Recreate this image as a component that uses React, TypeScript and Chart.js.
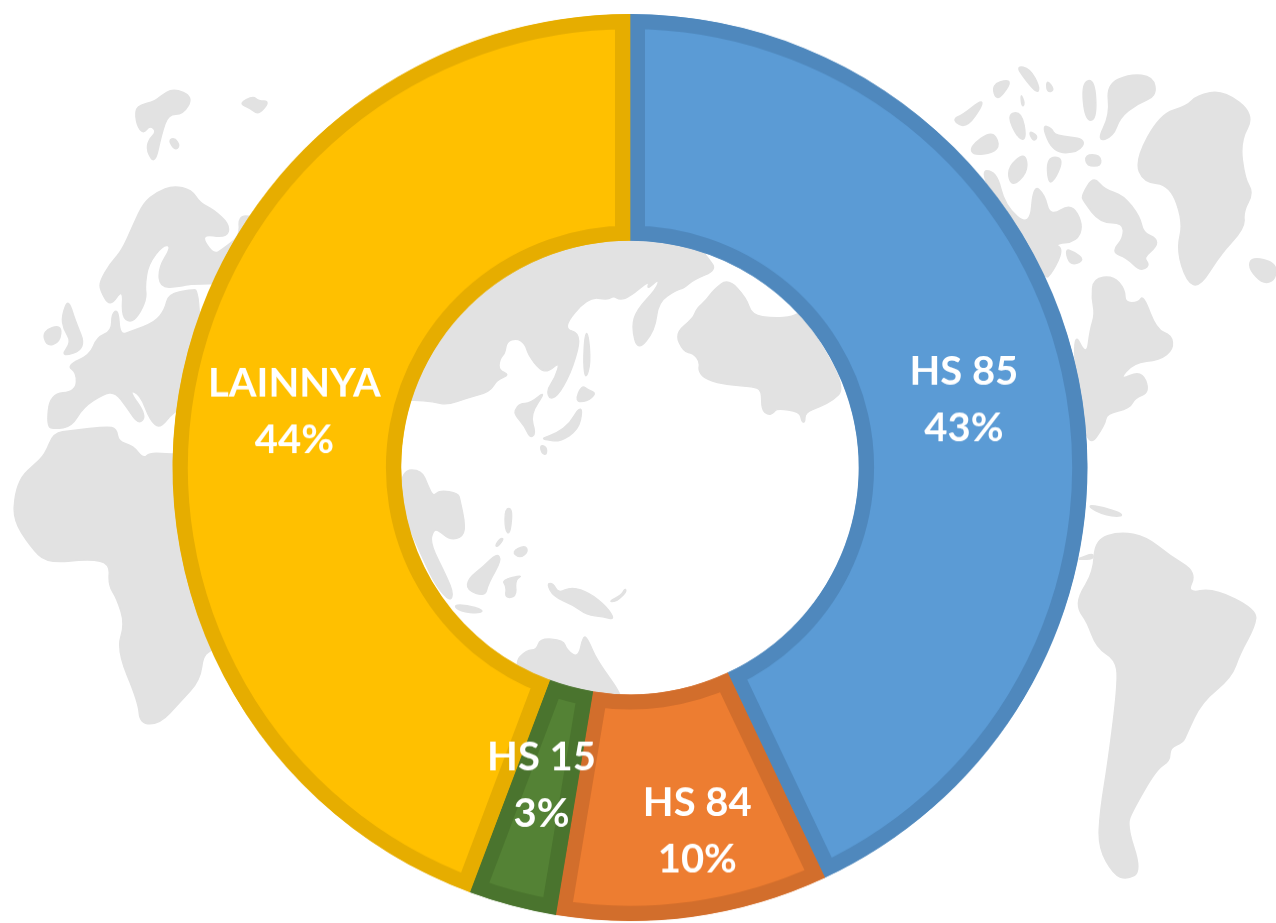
import React, { useEffect, useRef } from "react";
import { Chart, registerables } from "chart.js";

Chart.register(...registerables);

const categories = ["HS 85", "HS 84", "HS 15", "LAINNYA"];
const shares = [43, 9.6, 3.1, 44.3];
const fillColors = ["#5B9BD5", "#ED7D31", "#548235", "#FFC000"];
const edgeColors = ["#4F88BD", "#D26E2C", "#4A742E", "#E6AD00"];
const labelNudgeX = [-1, 20, 0, 2];
const labelNudgeY = [6, 27, -11, 5];

// Decorative backdrop outlines, written in the coordinates of three regions of the picture.
const mapWest = [
  "405,110 440,100 465,95 480,85 520,65 580,85 550,125 505,125 485,170 465,240 440,210 445,185 470,165 450,150 430,170 410,150",
  "505,185 525,180 540,198 525,208",
  "717,100 760,83 775,95 810,95 775,127 750,110",
  "300,510 330,470 365,440 400,380 430,330 470,305 520,290 575,300 600,330 640,345 690,380 680,410 600,400 640,450 670,435 720,405 715,360 760,360 850,400 850,515 575,515 540,522 480,525 475,480 515,430 490,425 445,470 435,520 440,550 415,590 390,605 365,590 370,525 330,570 300,530",
  "570,530 505,540 495,575 465,605 395,625 360,635 355,575 335,585 335,625 290,640 270,680 200,705 230,720 228,765 150,770 140,845 165,850 215,845 250,800 310,770 345,765 380,800 415,840 440,820 385,760 420,770 450,830 480,850 520,810 600,780 600,530",
  "185,590 205,550 225,600 260,665 180,685 215,650 190,620",
  "127,625 185,610 180,650 140,660",
  "160,860 215,855 320,845 350,850 355,880 400,890 430,920 450,905 520,910 700,900 700,1300 640,1360 610,1370 600,1430 540,1480 480,1530 420,1530 415,1480 350,1360 375,1300 350,1240 325,1210 330,1160 270,1150 140,1160 90,1120 40,1060 45,1000 65,960 100,935 135,910",
];
const mapCentre = [
  "40,510 100,515 140,525 200,505 270,485 290,450 330,435 295,420 300,385 315,370 320,335 350,325 375,340 385,375 420,420 445,425 480,395 465,445 440,480 450,510 480,490 520,410 545,310 485,295 565,200 625,210 640,197 660,210 690,200 750,150 740,180 778,145 770,175 710,240 695,290 713,365 765,300 775,215 830,180 850,175 880,150 950,120 925,85 860,0 0,0 0,510",
  "985,145 1040,205 1055,255 1120,265 1180,260 1200,245 1300,400 1330,480 1300,510 1260,530 1215,548 1215,578 1205,575 1200,545 1130,535 1120,550 1105,555 1085,540 1085,480 1060,470 985,465 920,450 895,425 900,395 880,370 850,365 825,310 880,265 890,235 920,210 940,180",
  "555,310 565,310 572,400 557,450 550,400",
  "545,465 565,480 590,490 560,515 525,515",
  "535,535 548,540 535,600 480,635 440,630 425,625 470,610 510,580",
  "420,645 440,650 440,675 425,670",
  "345,540 360,520 390,520 440,480 390,555 408,610 390,625 375,590 345,555",
  "5,720 65,720 85,770 100,800 120,780 175,790 180,810 195,880 190,920 150,930 115,900 100,900 90,940 140,1040 160,1090 150,1115 110,1070 75,1000 0,830",
  "315,835 338,835 330,915 315,900",
  "300,925 312,925 295,950 285,948",
  "335,965 375,945 385,965 360,985",
  "290,970 305,990 265,1060 255,1100 200,1080 205,1045 250,1010",
  "160,1125 200,1125 250,1140 240,1150 180,1145",
  "305,1050 370,1035 345,1050 350,1100 315,1105 320,1070",
  "440,1060 460,1060 475,1090 515,1070 570,1090 620,1130 645,1170 610,1160 560,1155 520,1125 460,1100",
  "625,1115 665,1095 675,1075 680,1085 650,1115",
  "340,1300 380,1260 410,1260 420,1225 490,1230 500,1260 535,1285 550,1215 565,1230 590,1290 670,1400 660,1440 400,1440",
];
const mapEast = [
  "65,130 100,120 150,95 160,100 110,145",
  "120,180 185,150 210,175 190,190 130,195",
  "260,30 300,35 330,70 320,80 280,50",
  "350,55 375,75 350,78",
  "272,80 285,100 275,105",
  "185,65 235,55 240,65 200,95",
  "230,120 275,115 290,165 265,165",
  "295,150 325,160 310,170",
  "335,140 365,145 375,160 470,165 445,190 370,190",
  "455,60 495,55 500,130 465,130",
  "530,65 600,45 670,50 680,85 620,100 570,125 550,160 500,170 540,120",
  "465,195 510,195 515,215 470,215",
  "615,205 690,120 770,105 800,85 880,75 975,120 930,170 945,240 970,265 940,300 945,330 870,380 810,440 770,430 740,370 760,320 720,250 640,245",
  "955,405 965,385 1038,395 1038,425 1000,435",
  "230,220 285,190 295,225 245,255",
  "350,200 400,200 380,235 355,250",
  "140,225 200,225 225,290 300,330 310,250 345,270 360,310 425,285 460,325 440,355 370,360 400,370 370,410 340,430",
  "455,270 490,235 525,260 580,270 630,310 640,340 680,350 680,365 640,385 660,400 630,410 590,385 545,375 580,350 580,320 510,320 460,280",
  "490,425 550,420 585,445 585,470 625,470 640,455 680,520 725,530 730,555 690,575 610,580 565,615 635,595 660,635 615,645 600,665 530,675 525,695 475,740 440,640 430,520 470,570 480,520 495,490 485,460",
  "405,370 430,375 465,390 420,400",
  "465,845 525,850 590,865 530,865",
  "445,945 490,935 490,945 450,945",
  "495,910 570,895 650,905 720,940 800,970 770,1010 850,1000 980,1040 975,1070 930,1120 905,1165 815,1210 770,1270 760,1285 720,1295 720,1320 680,1335 610,1410 590,1440 635,1525 590,1540 550,1530 505,1480 510,1415 535,1320 565,1170 555,1130 500,1110 470,1060 445,1040 445,1015 490,970",
];

// Rounds an outline's corners so the coastlines read as soft shapes.
function roundedOutline(points: string): string {
  const pts = points.split(" ").map((p) => p.split(",").map(Number));
  const mid = (a: number[], b: number[]) => [(a[0] + b[0]) / 2, (a[1] + b[1]) / 2];
  const start = mid(pts[pts.length - 1], pts[0]);
  let d = `M${start[0]},${start[1]}`;
  pts.forEach((p, i) => {
    const m = mid(p, pts[(i + 1) % pts.length]);
    d += `Q${p[0]},${p[1]} ${m[0]},${m[1]}`;
  });
  return d + "Z";
}

const sliceLabels = {
  id: "sliceLabels",
  afterDatasetsDraw(chart: any) {
    const { ctx } = chart;
    const arcs = chart.getDatasetMeta(0).data;
    ctx.save();
    ctx.fillStyle = "#FFFFFF";
    ctx.font = "bold 40px Lato";
    ctx.textAlign = "center";
    ctx.textBaseline = "middle";
    arcs.forEach((arc: any, i: number) => {
      const c = arc.getCenterPoint();
      const x = c.x + labelNudgeX[i];
      const y = c.y + labelNudgeY[i];
      ctx.fillText(categories[i], x, y - 28);
      ctx.fillText(`${Math.round(shares[i])}%`, x, y + 29);
    });
    ctx.restore();
  },
};

export default function App() {
  const canvasRef = useRef<HTMLCanvasElement>(null);

  useEffect(() => {
    document.body.style.margin = "0";
    const chart = new Chart(canvasRef.current!, {
      type: "doughnut",
      data: {
        labels: categories,
        datasets: [
          {
            data: shares,
            backgroundColor: fillColors,
            borderColor: edgeColors,
            borderWidth: 15,
            borderAlign: "inner",
            borderJoinStyle: "miter",
            hoverOffset: 0,
          } as any,
        ],
      },
      options: {
        responsive: false,
        animation: false,
        cutout: "50%",
        layout: { padding: { left: 0, right: 16, top: 12, bottom: 13 } },
        plugins: { legend: { display: false }, tooltip: { enabled: false } },
        events: [],
      },
      plugins: [sliceLabels],
    });
    return () => chart.destroy();
  }, []);

  const drawOutlines = (list: string[], sw: number) =>
    list.map((p, i) => <path key={i} d={roundedOutline(p)} stroke="#E2E2E2" strokeWidth={sw} strokeLinejoin="round" />);

  return (
    <div style={{ position: "relative", width: 1276, height: 923, overflow: "hidden", background: "#fff" }}>
      <svg width={1276} height={923} style={{ position: "absolute", left: 0, top: 0, filter: "blur(0.5px)" }}>
        <g fill="#E2E2E2">
          <g transform="translate(0,60) scale(0.3333,0.4338)">{drawOutlines(mapWest, 4)}</g>
          <g transform="translate(400,230) scale(0.3333,0.3333)">{drawOutlines(mapCentre, 4)}</g>
          <g transform="translate(930,50) scale(0.3333,0.5385)">{drawOutlines(mapEast, 4)}</g>
        </g>
      </svg>
      <canvas
        ref={canvasRef}
        width={1276}
        height={940}
        style={{
          position: "absolute",
          left: 0,
          top: -2,
          transform: "scaleY(0.9913)",
          transformOrigin: "0 469.5px",
          filter: "blur(0.5px)",
        }}
      />
    </div>
  );
}
